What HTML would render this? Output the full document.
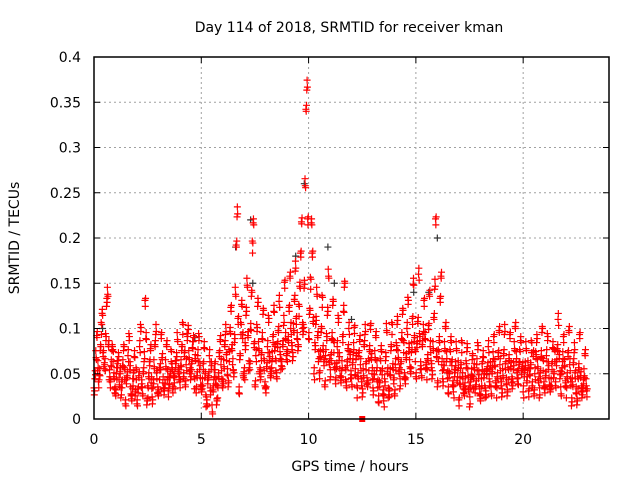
<!DOCTYPE html>
<html><head><meta charset="utf-8"><style>
html,body{margin:0;padding:0;background:#fff;}
svg{display:block;font-family:"DejaVu Sans","Liberation Sans",sans-serif;}
</style></head><body>
<svg id="chart" width="640" height="480" viewBox="0 0 640 480">
<text x="349" y="32" text-anchor="middle" font-size="14" fill="#000">Day 114 of 2018, SRMTID for receiver kman</text>
<text x="350" y="471" text-anchor="middle" font-size="14" fill="#000">GPS time / hours</text>
<text transform="translate(19,238) rotate(-90)" text-anchor="middle" font-size="14" fill="#000">SRMTID / TECUs</text>
<g id="grid"></g>
<g id="pts"></g>
<g id="axes"></g>
</svg>
<script>
const xTicks=[0,5,10,15,20];
const yTicks=[0,0.05,0.1,0.15,0.2,0.25,0.3,0.35,0.4];
const yTickLabels=["0","0.05","0.1","0.15","0.2","0.25","0.3","0.35","0.4"];
const binWidth=0.25;
const redTimes=[0,0.25,0.5,0.75,1,1.25,1.5,1.75,2,2.25,2.5,2.75,3,3.25,3.5,3.75,4,4.25,4.5,4.75,5,5.25,5.5,5.75,6,6.25,6.5,6.75,7,7.25,7.5,7.75,8,8.25,8.5,8.75,9,9.25,9.5,9.75,10,10.25,10.5,10.75,11,11.25,11.5,11.75,12,12.25,12.5,12.75,13,13.25,13.5,13.75,14,14.25,14.5,14.75,15,15.25,15.5,15.75,16,16.25,16.5,16.75,17,17.25,17.5,17.75,18,18.25,18.5,18.75,19,19.25,19.5,19.75,20,20.25,20.5,20.75,21,21.25,21.5,21.75,22,22.25,22.5,22.75];
const redVals=[
[.03,.05,.07,.09,.06,.04],[.05,.08,.10,.12,.07,.06],[.06,.09,.13,.14,.08,.05],[.04,.06,.08,.07,.05,.03],
[.03,.05,.06,.07,.04,.05],[.03,.04,.06,.08,.05,.02],[.04,.05,.07,.09,.06,.03],[.02,.04,.05,.07,.03,.05],
[.02,.03,.05,.08,.10,.04],[.03,.05,.07,.13,.09,.02],[.03,.05,.06,.08,.04,.02],[.04,.06,.08,.10,.05,.03],
[.03,.05,.06,.09,.07,.04],[.03,.04,.06,.08,.05,.03],[.04,.05,.07,.06,.03,.05],[.04,.06,.07,.09,.05,.05],
[.04,.06,.08,.10,.05,.07],[.04,.06,.09,.10,.07,.05],[.05,.06,.08,.09,.04,.07],[.03,.05,.07,.09,.06,.04],
[.03,.04,.06,.08,.05,.02],[.02,.04,.05,.07,.03,.06],[.01,.03,.05,.06,.04,.02],[.03,.05,.07,.09,.06,.04],
[.04,.06,.08,.10,.07,.05],[.04,.07,.10,.12,.08,.06],[.05,.09,.14,.19,.23,.11],[.03,.07,.10,.13,.09,.05],
[.05,.08,.12,.15,.09,.06],[.06,.10,.14,.19,.22,.08],[.04,.07,.10,.13,.08,.05],[.05,.07,.09,.12,.06,.04],
[.03,.06,.08,.11,.07,.05],[.05,.07,.09,.12,.08,.06],[.05,.08,.10,.13,.07,.06],[.06,.08,.11,.15,.09,.07],
[.07,.09,.12,.16,.10,.08],[.07,.10,.13,.17,.11,.09],[.08,.12,.15,.18,.22,.10],[.10,.15,.26,.34,.37,.22],
[.09,.12,.15,.22,.18,.11],[.05,.08,.11,.14,.09,.07],[.05,.07,.10,.13,.08,.06],[.04,.07,.09,.12,.16,.06],
[.05,.07,.09,.13,.08,.06],[.04,.06,.08,.11,.07,.05],[.04,.06,.09,.12,.15,.05],[.04,.06,.08,.10,.07,.05],
[.04,.06,.08,.10,.05,.07],[.03,.05,.07,.09,.06,.04],[.03,.05,.08,.10,.06,.04],[.04,.06,.08,.10,.07,.05],
[.03,.05,.07,.09,.06,.04],[.02,.04,.06,.08,.05,.03],[.02,.04,.07,.10,.05,.03],[.03,.05,.08,.10,.06,.04],
[.03,.06,.08,.11,.07,.05],[.04,.06,.09,.12,.08,.05],[.04,.07,.10,.13,.08,.06],[.05,.08,.11,.15,.09,.07],
[.05,.08,.11,.16,.09,.06],[.05,.08,.10,.13,.09,.06],[.05,.07,.10,.14,.08,.06],[.05,.08,.11,.15,.22,.07],
[.04,.07,.09,.13,.16,.06],[.04,.06,.08,.10,.07,.05],[.03,.05,.07,.09,.06,.04],[.03,.05,.06,.08,.04,.06],
[.02,.04,.06,.08,.05,.03],[.03,.04,.06,.08,.05,.03],[.02,.04,.05,.07,.04,.06],[.03,.04,.06,.08,.05,.03],
[.02,.04,.06,.07,.05,.03],[.03,.05,.06,.08,.04,.06],[.03,.05,.07,.09,.06,.04],[.03,.05,.07,.10,.06,.04],
[.03,.05,.07,.10,.06,.04],[.03,.05,.07,.09,.06,.04],[.04,.06,.08,.10,.07,.05],[.04,.06,.07,.09,.05,.06],
[.03,.05,.06,.08,.04,.06],[.03,.05,.06,.08,.04,.07],[.03,.05,.07,.09,.06,.04],[.03,.05,.07,.10,.06,.04],
[.03,.05,.07,.09,.06,.04],[.03,.04,.06,.08,.05,.07],[.04,.06,.08,.11,.07,.05],[.03,.05,.07,.09,.06,.04],
[.03,.05,.07,.10,.06,.04],[.02,.04,.06,.08,.05,.03],[.02,.04,.06,.09,.05,.03],[.03,.04,.05,.07,.04,.03]];
const blackTimes=[6.6,7.3,7.4,9.4,9.8,10.9,11.2,12.0,14.9,15.6,16.0,18.3,0.4,4.7];
const blackVals=[0.19,0.22,0.15,0.18,0.26,0.19,0.15,0.11,0.14,0.14,0.2,0.05,0.1,0.09];
const markerTimes=[12.5];
const markerVals=[0];

const L=94,R=609,T=57,B=419,XMAX=24,YMAX=0.4;
const sx=v=>L+v/XMAX*(R-L);
const sy=v=>B-v/YMAX*(B-T);
// pixel dither pattern (presentation only) to break up quantized rows
const dither=[-4,3,-1,5,-3,1,-5,2,4,-2,0,-6,6];
const NS="http://www.w3.org/2000/svg";
function mk(tag,attrs,parent){const e=document.createElementNS(NS,tag);for(const k in attrs)e.setAttribute(k,attrs[k]);parent.appendChild(e);return e;}
const grid=document.getElementById('grid'),pts=document.getElementById('pts'),axes=document.getElementById('axes');
xTicks.forEach((t,i)=>{
  const x=sx(t);
  if(t>0){const g=mk('line',{x1:x,x2:x,y1:T,y2:B,stroke:'#a0a0a0','stroke-dasharray':'2,3'},grid);
  
  }
  mk('line',{x1:x,x2:x,y1:B,y2:B-6,stroke:'#000'},axes);
  mk('line',{x1:x,x2:x,y1:T,y2:T+6,stroke:'#000'},axes);
  const tx=mk('text',{x:x,y:B+25,'text-anchor':'middle','font-size':14},axes);
  tx.textContent=String(t);
  
  
});
yTicks.forEach((t,i)=>{
  const y=sy(t);
  if(t>0){const g=mk('line',{x1:L,x2:R,y1:y,y2:y,stroke:'#a0a0a0','stroke-dasharray':'2,3'},grid);
  
  }
  mk('line',{x1:L,x2:L+6,y1:y,y2:y,stroke:'#000'},axes);
  mk('line',{x1:R,x2:R-6,y1:y,y2:y,stroke:'#000'},axes);
  const tx=mk('text',{x:L-13,y:y+5,'text-anchor':'end','font-size':14},axes);
  tx.textContent=yTickLabels[i];
  
  
});
const border=mk('rect',{x:L,y:T,width:R-L,height:B-T,fill:'none',stroke:'#000','stroke-width':1.5},axes);


function cross(t,v,color,dy){
  const x=sx(t),y=sy(v)+(dy||0);
  const p=mk('path',{d:`M${x-3.5},${y}h7M${x},${y-3.5}v7`,stroke:color,'stroke-width':1.2,fill:'none'},pts);
  
  
}
blackTimes.forEach((t,i)=>cross(t,blackVals[i],'#333',0));
let k=0;
redTimes.forEach((t,i)=>{
  const vs=redVals[i];
  const n=vs.length;
  vs.forEach((v,j)=>{
    for(let c=0;c<3;c++){
      cross(t+binWidth*(j+c/3)/n,v,'#ff0000',dither[k%dither.length]);
      k++;
    }
  });
});
markerTimes.forEach((t,i)=>{
  const r=mk('rect',{x:sx(t)-3,y:sy(markerVals[i])-3,width:6,height:6,fill:'#ff0000'},pts);
  
  
});
</script>
</body></html>
